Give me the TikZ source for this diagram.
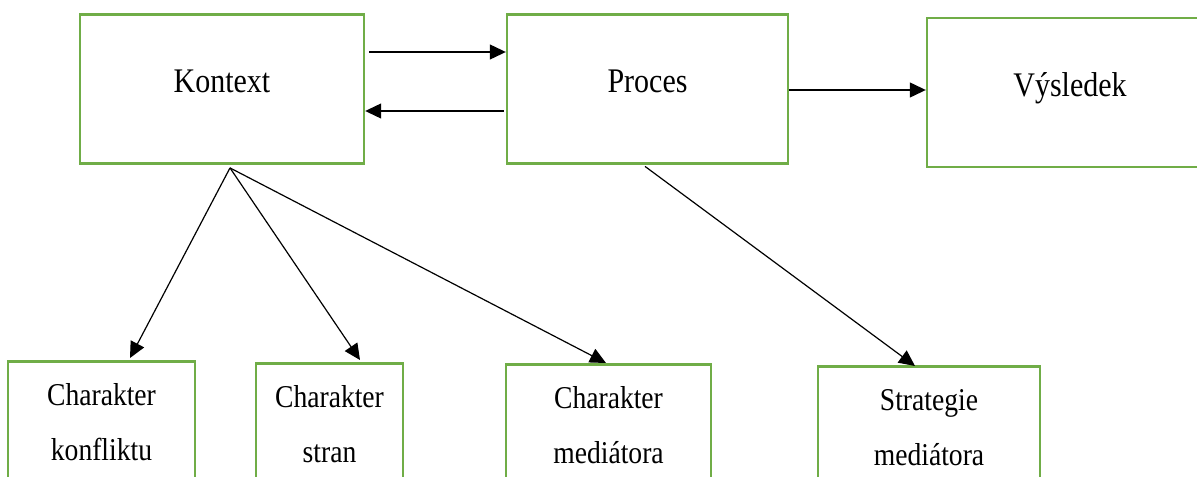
\documentclass[tikz,border=0pt]{standalone}
\usepackage{fontspec}
\setmainfont{Liberation Serif}
\usetikzlibrary{arrows.meta}
\definecolor{boxgreen}{HTML}{70AD47}

\begin{document}
\begin{tikzpicture}[x=0.5pt, y=-0.5pt,
    block/.style={draw=boxgreen, line width=1.2pt, inner sep=0pt, minimum width=#1,
      yscale=1.15, transform shape, minimum height=64.8pt, text depth=7pt,
      font=\fontsize{15}{18}\selectfont},
    subblock/.style={draw=boxgreen, line width=1.2pt, inner sep=0pt, anchor=north,
      minimum width=#1, yscale=1.15, transform shape, minimum height=53pt, align=center,
      font=\fontsize{13.8}{23.9}\selectfont},
    arr/.style={-{Triangle[length=8pt, width=7.5pt]}, line width=0.6pt},]
    \path[use as bounding box, clip] (0,0) rectangle (1197,476);
    % top row
    \node[block=142pt] (kontext) at (222,89) {Kontext};
    \node[block=140.5pt] (proces) at (647.5,89) {Proces};
    \node[block=143pt] (vysledek) at (1070,92.5) {Výsledek};
    % bottom row
    \node[subblock=93.5pt] (konflikt) at (101.5,360) {Charakter\\konfliktu};
    \node[subblock=73.5pt] (strany) at (329.5,362) {Charakter\\stran};
    \node[subblock=102.5pt] (mediator) at (608.5,363) {Charakter\\mediátora};
    \node[subblock=111pt] (strategie) at (929,365) {Strategie\\mediátora};
    % connectors
    \draw[arr] ([xshift=2pt, yshift=18.5pt]kontext.east) -- ([yshift=18.5pt]proces.west);
    \draw[arr] ([xshift=-1pt, yshift=-11pt]proces.west) -- ([yshift=-11pt]kontext.east);
    \draw[arr] ([yshift=-0.5pt]proces.east) -- ([yshift=1.25pt]vysledek.west);
    \draw[arr] ([xshift=4pt, yshift=-1.5pt]kontext.south) -- ([xshift=14.25pt, yshift=1pt]konflikt.north);
    \draw[arr] ([xshift=4pt, yshift=-1.5pt]kontext.south) -- ([xshift=15.25pt, yshift=1pt]strany.north);
    \draw[arr] ([xshift=4pt, yshift=-1.5pt]kontext.south) -- ([xshift=-1.25pt]mediator.north);
    \draw[arr] ([xshift=-1.25pt, yshift=-0.75pt]proces.south) -- ([xshift=-7pt, yshift=-0.5pt]strategie.north);
  \end{tikzpicture}
\end{document}
